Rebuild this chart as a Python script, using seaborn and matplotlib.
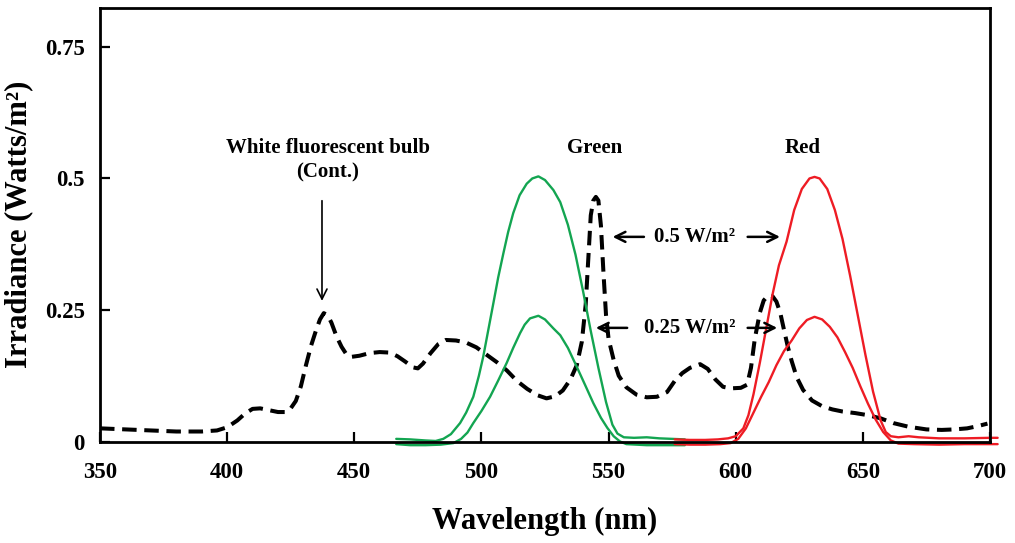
import matplotlib
matplotlib.use("Agg")
import matplotlib.pyplot as plt
import numpy as np
import pandas as pd
import seaborn as sns

# ---- spectra (wavelength in nm, irradiance in W/m^2) ----
bulb_nm = [350, 360, 370, 380, 390, 396, 400, 404, 407, 410, 413, 416, 420, 423,
           425, 427, 429, 431, 433, 435, 436.5, 438, 439.5, 441, 443, 445, 447, 449,
           452, 456, 460, 464, 467, 470, 473, 475, 477, 480, 483, 486, 490, 494,
           498, 502, 506, 510, 514, 518, 522, 525.6, 529, 532, 535, 537.5, 539.5,
           541, 542, 543, 544, 545, 546, 547, 548, 549, 550, 552, 554, 557, 561,
           565, 569, 573, 576, 579, 582, 586, 589, 592, 595, 598, 602, 604.5, 606,
           607.5, 609.5, 611, 612.8, 614.5, 616, 617.5, 619, 620.5, 622, 624,
           626.5, 630, 634, 638, 642, 647, 652, 657, 662, 668, 675, 681, 686,
           691, 695, 699]
bulb_w = [0.025, 0.023, 0.021, 0.019, 0.019, 0.021, 0.027, 0.040, 0.053, 0.062,
          0.063, 0.060, 0.056, 0.056, 0.063, 0.077, 0.105, 0.145, 0.182, 0.212,
          0.232, 0.244, 0.240, 0.226, 0.200, 0.180, 0.165, 0.161, 0.163, 0.168,
          0.170, 0.169, 0.162, 0.152, 0.141, 0.139, 0.148, 0.168, 0.185, 0.193,
          0.192, 0.188, 0.179, 0.165, 0.151, 0.135, 0.115, 0.100, 0.088, 0.082,
          0.086, 0.097, 0.118, 0.145, 0.190, 0.260, 0.345, 0.430, 0.458, 0.465,
          0.458, 0.410, 0.320, 0.240, 0.195, 0.155, 0.125, 0.103, 0.089, 0.084,
          0.085, 0.094, 0.115, 0.130, 0.140, 0.147, 0.138, 0.118, 0.104, 0.101,
          0.102, 0.108, 0.140, 0.195, 0.245, 0.268, 0.278, 0.276, 0.266, 0.245,
          0.212, 0.180, 0.153, 0.122, 0.098, 0.078, 0.067, 0.061, 0.057, 0.054,
          0.050, 0.044, 0.035, 0.028, 0.023, 0.022, 0.023, 0.025, 0.029, 0.034]

green_hi_nm = [466.5, 472, 478, 482, 485, 488, 491.6, 494, 496.8, 499, 500.7, 502.7,
               504.7, 506.6, 508.6, 510.5, 512.5, 515, 517.8, 520, 522.4, 525,
               528.3, 531, 534, 537, 540, 543, 546, 549, 551.5, 553.5, 556, 560,
               565, 570, 575, 580]
green_hi_w = [0.005, 0.004, 0.002, 0.001, 0.005, 0.014, 0.035, 0.055, 0.085, 0.125,
              0.161, 0.212, 0.263, 0.312, 0.357, 0.398, 0.434, 0.468, 0.490, 0.500,
              0.504, 0.497, 0.478, 0.455, 0.412, 0.355, 0.285, 0.210, 0.140, 0.075,
              0.032, 0.015, 0.008, 0.007, 0.008, 0.006, 0.005, 0.004]

green_lo_nm = [466.5, 472, 478, 484, 489, 492, 494.5, 496.8, 500, 503.4, 506.5,
               509.9, 512.5, 515.2, 517, 519.1, 522.4, 525, 528.3, 531, 534, 537.5,
               541, 544, 547, 549.5, 552, 554.5, 557, 565, 580]
green_lo_w = [-0.005, -0.007, -0.007, -0.006, -0.003, 0.005, 0.017, 0.035, 0.058,
              0.085, 0.115, 0.149, 0.178, 0.206, 0.222, 0.234, 0.239, 0.232, 0.215,
              0.202, 0.178, 0.142, 0.105, 0.073, 0.045, 0.026, 0.010, 0.000,
              -0.005, -0.007, -0.007]

red_hi_nm = [576, 582, 588, 593, 597, 600, 603, 605, 607, 609.5, 612, 614.5, 617,
             620, 623, 626, 629, 631, 633, 636, 639, 642, 645, 648, 651, 654, 657,
             659, 661, 664, 668, 672, 680, 690, 700, 703]
red_hi_w = [0.004, 0.003, 0.003, 0.004, 0.006, 0.010, 0.025, 0.050, 0.090, 0.150,
            0.215, 0.280, 0.335, 0.380, 0.440, 0.480, 0.500, 0.503, 0.500, 0.480,
            0.440, 0.385, 0.315, 0.240, 0.165, 0.095, 0.040, 0.018, 0.010, 0.008,
            0.010, 0.008, 0.006, 0.006, 0.007, 0.007]

red_lo_nm = [576, 582, 588, 594, 598, 601, 604, 607, 610, 613, 616, 619, 622, 625,
             628, 631, 634, 637, 640, 643, 646, 649, 652, 655, 658, 661, 664, 670,
             680, 690, 703]
red_lo_w = [-0.005, -0.006, -0.006, -0.005, -0.003, 0.005, 0.025, 0.055, 0.085,
            0.113, 0.145, 0.172, 0.192, 0.215, 0.231, 0.237, 0.232, 0.218, 0.198,
            0.170, 0.140, 0.105, 0.072, 0.042, 0.018, 0.002, -0.004, -0.005,
            -0.006, -0.005, -0.005]

x_ticks = [350, 400, 450, 500, 550, 600, 650, 700]
y_ticks = [0, 0.25, 0.5, 0.75]
y_tick_labels = ["0", "0.25", "0.5", "0.75"]

GREEN = "#13a551"
RED = "#ee1c24"

sns.set_theme(style="ticks")
plt.rcParams["font.family"] = ["Liberation Serif", "DejaVu Serif"]
plt.rcParams["font.weight"] = "bold"
plt.rcParams["text.color"] = "black"
plt.rcParams["axes.labelcolor"] = "black"

fig = plt.figure(figsize=(10.15, 5.43), dpi=100)
ax = fig.add_axes([100 / 1015, 1 - 441.5 / 543, 890 / 1015, 434 / 543])

sns.lineplot(x=bulb_nm, y=bulb_w, ax=ax, color="black", lw=2.9,
             linestyle=(0, (3.6, 1.9)), estimator=None, sort=False)
for xs, ys, c in [(green_hi_nm, green_hi_w, GREEN), (green_lo_nm, green_lo_w, GREEN),
                  (red_hi_nm, red_hi_w, RED), (red_lo_nm, red_lo_w, RED)]:
    sns.lineplot(x=xs, y=ys, ax=ax, color=c, lw=1.7, estimator=None, sort=False)
for ln in ax.lines:
    ln.set_clip_on(False)
    ln.set_solid_joinstyle("round")

ax.set_xlim(350, 700)
ax.set_ylim(0, 0.825)
ax.set_xticks(x_ticks)
ax.set_xticklabels([str(v) for v in x_ticks])
ax.set_yticks(y_ticks)
ax.set_yticklabels(y_tick_labels)
ax.tick_params(direction="in", length=7, width=1.6, labelsize=16.5, colors="black")
ax.tick_params(axis="x", pad=15)
ax.tick_params(axis="y", pad=11)
for lab in ax.get_xticklabels() + ax.get_yticklabels():
    lab.set_fontweight("bold")
for sp in ax.spines.values():
    sp.set_visible(True)
    sp.set_linewidth(2.0)
    sp.set_color("black")

ax.set_xlabel("Wavelength (nm)", fontsize=22, fontweight="bold", labelpad=17)
ax.set_ylabel("Irradiance (Watts/m²)", fontsize=22, fontweight="bold", labelpad=8)

# labels and pointers
FS = 15
ax.text(439.5, 0.557, "White fluorescent bulb", ha="center", va="center",
        fontsize=FS, fontweight="bold")
ax.text(439.3, 0.512, "(Cont.)", ha="center", va="center",
        fontsize=FS, fontweight="bold")
ax.annotate("", xy=(437.3, 0.262), xytext=(437.3, 0.463),
            arrowprops=dict(arrowstyle="->", lw=1.2, color="black", mutation_scale=18))
ax.text(544.7, 0.557, "Green", ha="center", va="center", fontsize=FS, fontweight="bold")
ax.text(626.4, 0.557, "Red", ha="center", va="center", fontsize=FS, fontweight="bold")

ax.text(583.8, 0.389, "0.5 W/m²", ha="center", va="center", fontsize=FS, fontweight="bold")
ax.annotate("", xy=(550.5, 0.389), xytext=(565, 0.389),
            arrowprops=dict(arrowstyle="->", lw=1.8, color="black", mutation_scale=18))
ax.annotate("", xy=(618.5, 0.389), xytext=(603.6, 0.389),
            arrowprops=dict(arrowstyle="->", lw=1.8, color="black", mutation_scale=18))

ax.text(582.0, 0.216, "0.25 W/m²", ha="center", va="center", fontsize=FS, fontweight="bold")
ax.annotate("", xy=(543.9, 0.216), xytext=(558.4, 0.216),
            arrowprops=dict(arrowstyle="->", lw=1.8, color="black", mutation_scale=18))
ax.annotate("", xy=(617.4, 0.216), xytext=(603.6, 0.216),
            arrowprops=dict(arrowstyle="->", lw=1.8, color="black", mutation_scale=18))

fig.savefig("out.png", dpi=100)
